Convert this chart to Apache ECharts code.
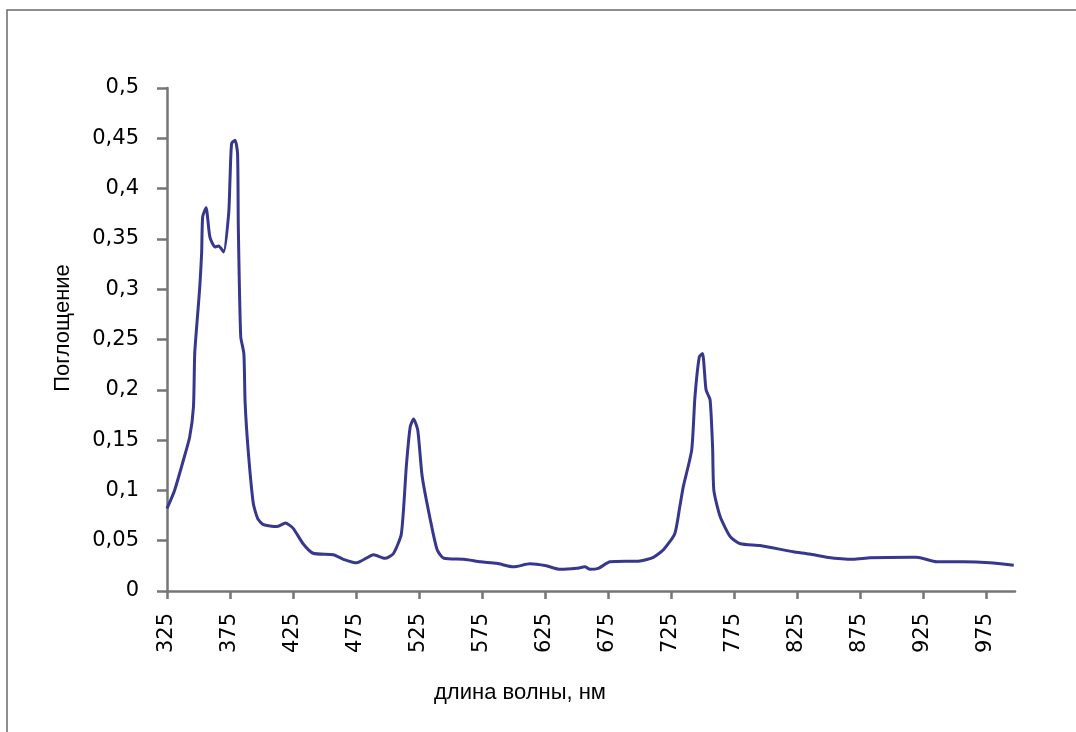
<!DOCTYPE html>
<html>
<head>
<meta charset="utf-8">
<script src="https://cdn.jsdelivr.net/npm/echarts@6/dist/echarts.min.js"></script>
<style>
  html, body { margin: 0; padding: 0; background: #fff; }
  #spectrum { width: 1076px; height: 732px; }
</style>
</head>
<body>
<div id="spectrum"></div>
<script>
// длина волны, нм
var wavelengths = [
  325, 331, 338, 343, 346, 347, 349, 351, 352.5, 353.3, 356, 359, 363, 366, 370,
  374, 375, 376.3, 379, 381, 381.6, 383.5, 386, 387, 389.6, 393.5, 397, 401.5, 412,
  419, 425, 433, 441, 457, 465, 475.5, 489, 498, 504.6, 511, 515, 518, 520.7, 524,
  527.5, 534, 539.4, 544.7, 560.6, 574, 586.7, 600, 613, 626, 637, 650, 656.7,
  660.7, 667.3, 676.6, 700.4, 711, 719, 728, 732, 734.8, 741.4, 744, 747.5, 750,
  752.8, 756, 758, 759, 764, 772, 780, 795.6, 822, 835, 848.6, 869.6, 883, 915,
  920, 936, 957, 978, 997
];
// Поглощение
var absorbance = [
  0.082, 0.100, 0.130, 0.153, 0.183, 0.236, 0.270, 0.302, 0.336, 0.372, 0.381, 0.352, 0.342, 0.343, 0.337,
  0.376, 0.409, 0.445, 0.448, 0.435, 0.362, 0.253, 0.236, 0.187, 0.137, 0.087, 0.072, 0.066, 0.064,
  0.0675, 0.0625, 0.047, 0.0375, 0.036, 0.0315, 0.028, 0.036, 0.0325, 0.037, 0.057, 0.125, 0.163, 0.171, 0.160,
  0.114, 0.0706, 0.041, 0.0325, 0.0315, 0.029, 0.0275, 0.024, 0.027, 0.025, 0.0215, 0.0225, 0.024,
  0.0215, 0.0225, 0.029, 0.0298, 0.0335, 0.041, 0.057, 0.084, 0.104, 0.140, 0.193, 0.233, 0.236,
  0.200, 0.190, 0.143, 0.100, 0.074, 0.054, 0.047, 0.0452, 0.039, 0.0368, 0.0335, 0.0315, 0.033, 0.0335,
  0.0335, 0.029, 0.029, 0.028, 0.0255
];
var xTicks = [325, 375, 425, 475, 525, 575, 625, 675, 725, 775, 825, 875, 925, 975];

var chart = echarts.init(document.getElementById('spectrum'));

var axisGray = '#767676';

var option = {
  animation: false,
  backgroundColor: '#fff',
  grid: { left: 167, top: 88, right: 61, bottom: 141 },
  xAxis: {
    type: 'value',
    min: 325,
    max: 998,
    splitLine: { show: false },
    axisLine: { lineStyle: { color: axisGray, width: 2.5 } },
    axisTick: { show: true, length: 8, customValues: xTicks, lineStyle: { color: axisGray, width: 2.5 } },
    axisLabel: {
      customValues: xTicks,
      rotate: 90,
      margin: 22,
      color: '#000',
      fontFamily: 'DejaVu Sans',
      fontSize: 21
    }
  },
  yAxis: {
    type: 'value',
    min: 0,
    max: 0.5,
    interval: 0.05,
    splitLine: { show: false },
    axisLine: { show: true, lineStyle: { color: axisGray, width: 2.5 } },
    axisTick: { show: true, inside: false, length: 10, lineStyle: { color: axisGray, width: 2.5 } },
    axisLabel: {
      margin: 28,
      color: '#000',
      fontFamily: 'DejaVu Sans',
      fontSize: 21,
      formatter: function (v) {
        return String(Math.round(v * 100) / 100).replace('.', ',');
      }
    }
  },
  series: [{
    type: 'line',
    data: wavelengths.map(function (w, i) { return [w, absorbance[i]]; }),
    showSymbol: false,
    smooth: 0.2,
    lineStyle: { color: '#37378d', width: 3 }
  }],
  graphic: [
    {
      type: 'rect',
      shape: { x: 7, y: 10, width: 1200, height: 900 },
      style: { fill: 'none', stroke: '#6a6a6a', lineWidth: 1.5 },
      silent: true
    },
    {
      type: 'text',
      x: 520, y: 693,
      style: {
        text: 'длина волны, нм',
        font: '22px "Liberation Sans"',
        fill: '#000',
        align: 'center',
        verticalAlign: 'middle'
      }
    },
    {
      type: 'text',
      x: 63, y: 328,
      rotation: Math.PI / 2,
      style: {
        text: 'Поглощение',
        font: '22px "Liberation Sans"',
        fill: '#000',
        align: 'center',
        verticalAlign: 'middle'
      }
    }
  ]
};

chart.setOption(option);
</script>
</body>
</html>
